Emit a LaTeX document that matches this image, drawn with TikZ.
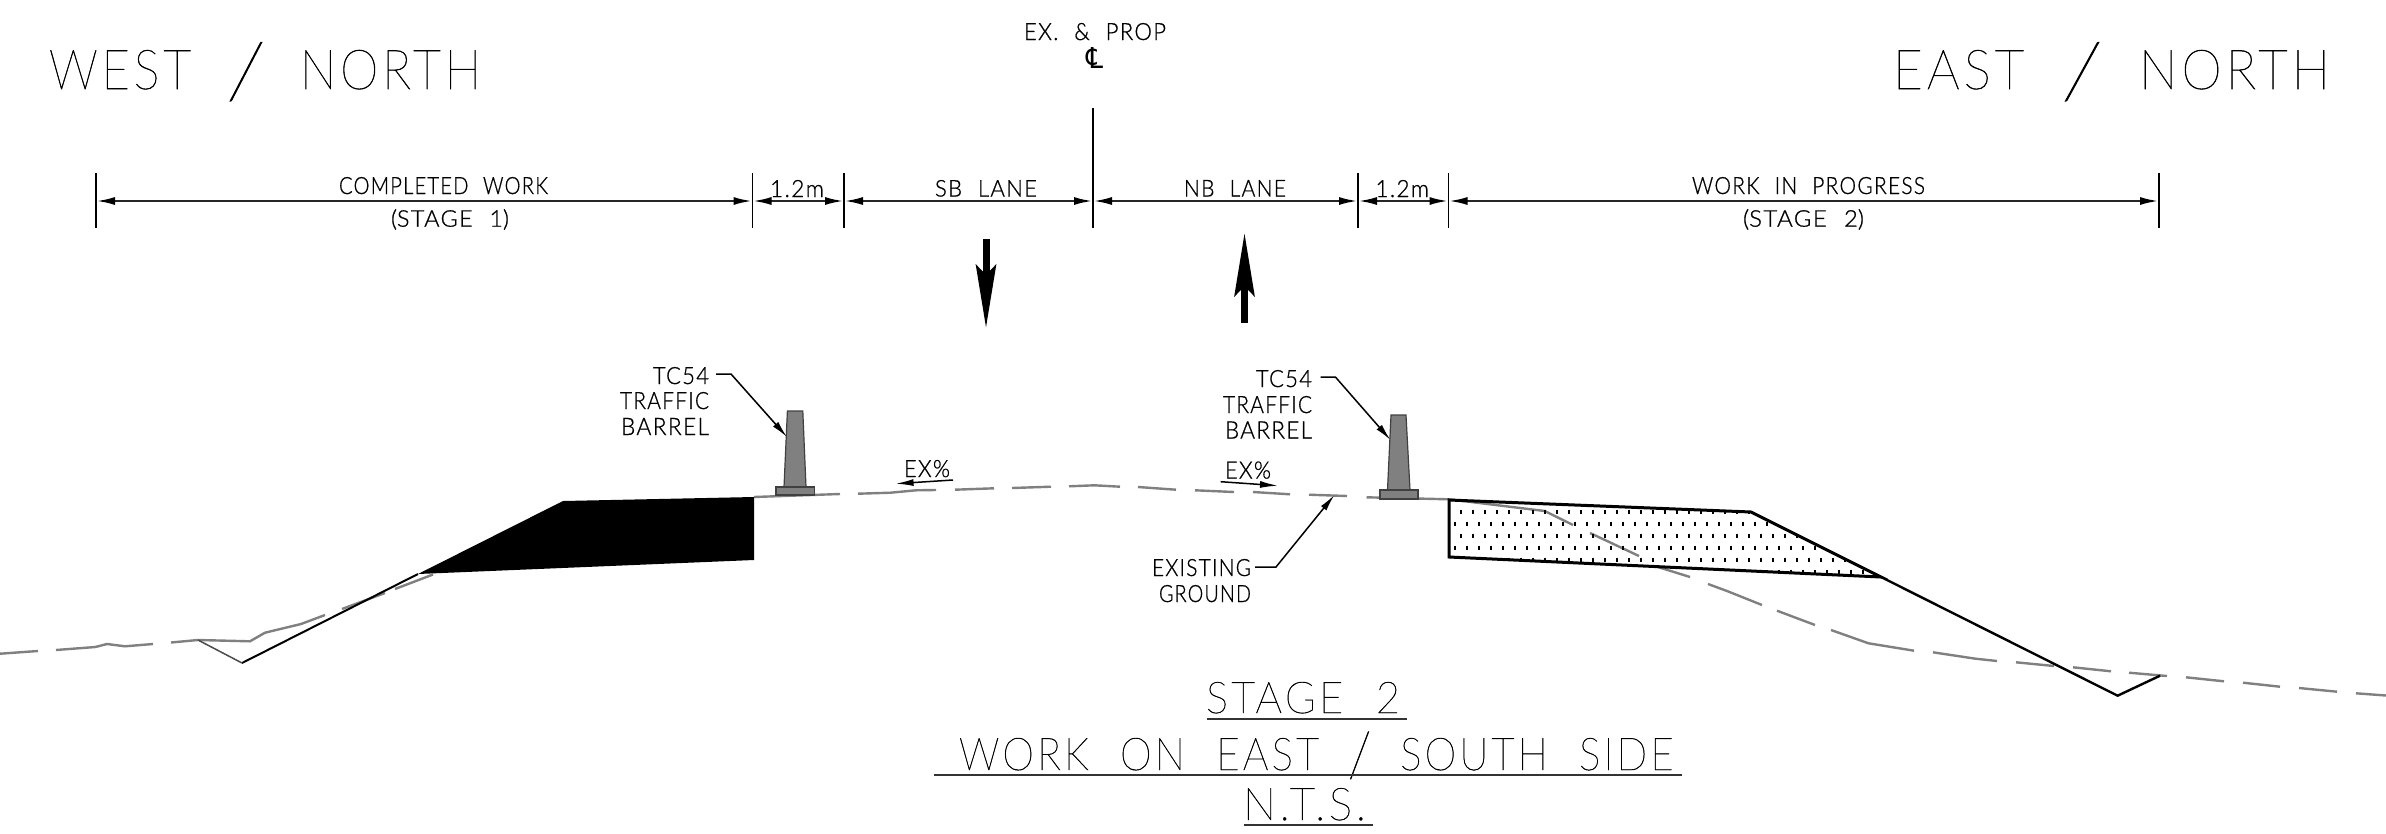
\documentclass[tikz,border=0pt]{standalone}
\usepackage{fontspec}
\usepackage{graphicx}
\usetikzlibrary{arrows.meta}
\newfontfamily\cadfont{Lato}[UprightFont=* Light,LetterSpace=6,FakeBold=0.8]
\newfontfamily\cadthin{Lato}[UprightFont=* Thin,LetterSpace=8,FakeBold=1]
\newfontfamily\cadsym{DejaVu Sans}
\definecolor{groundgrey}{HTML}{808080}
\tikzset{
  cadtext/.style={inner sep=0pt,outer sep=0pt,anchor=base west,font=\cadfont},
  cadtitle/.style={inner sep=0pt,outer sep=0pt,anchor=base west,font=\cadthin},
  tick/.style={line width=1.6pt,black},
  dimline/.style={line width=2.4pt,black!85,{Latex[length=19pt,width=8pt,black]}-{Latex[length=19pt,width=8pt,black]}},
  groundline/.style={line width=2.4pt,groundgrey,line join=round},
  leader/.style={line width=1.5pt,black,-{Latex[length=17pt,width=7pt]}},
  slopearrow/.style={line width=1.5pt,black,-{Latex[length=18pt,width=7pt]}},
  flowarrow/.style={line width=7pt,black,-{Stealth[length=63pt,width=20pt,inset=10pt]}},
  barrel/.style={draw=black!75,line width=1.2pt,fill=groundgrey},
  newwork/.style={draw=black,line width=3pt,line join=miter},
  titleline/.style={line width=2pt,black!80},
}
\newcommand{\cad}[6]{\node[cadtext] (#1) at (#2,#3) {\resizebox{#4pt}{#5pt}{#6}};}
\newcommand{\cadt}[6]{\node[cadtitle] (#1) at (#2,#3) {\resizebox{#4pt}{#5pt}{#6}};}
\newcommand{\wsp}{\hspace{0.72em}}
% slash: width, total height, drop below the baseline
\newcommand{\bigslash}[3]{\smash{\raisebox{-#3}{\resizebox*{#1}{#2}{\raisebox{\depth}{/}}}}}
\begin{document}
\begin{tikzpicture}[x=1pt,y=-1pt]
\useasboundingbox (0,0) rectangle (2386,833);

% titles
\cadt{tw}{49}{89}{432}{39}{WEST\hspace{0.72em}\bigslash{0.82em}{1.07em}{0.22em}\hspace{0.7em}NORTH}
\cadt{te}{1893}{89}{437}{39}{EAST\hspace{0.72em}\bigslash{0.82em}{1.07em}{0.22em}\hspace{0.7em}NORTH}
\cad{cl1}{1024}{40}{142}{17}{EX.\wsp\&\wsp PROP}
\node[inner sep=0pt,anchor=base,font=\cadsym] (cl2) at (1095,68) {\resizebox{17pt}{21pt}{℄}};

% dimension chain
\foreach \n/\x in {d0/96,d1/752.5,d2/844,d3/1093,d4/1358,d5/1448.5,d6/2159}{
  \coordinate (\n t) at (\x,173);
  \coordinate (\n b) at (\x,228);
  \coordinate (\n) at (\x,201);
  \draw[tick] (\n t) -- (\n b);
}
\coordinate (cltop) at (1093,108);
\draw[tick] (cltop) -- (d3t);
\draw[dimline] (d0) -- (d1);
\draw[dimline] (d1) -- (d2);
\draw[dimline] (d2) -- (d3);
\draw[dimline] (d3) -- (d4);
\draw[dimline] (d4) -- (d5);
\draw[dimline] (d5) -- (d6);

\cad{a1}{339}{194}{209}{17}{COMPLETED\wsp WORK}
\cad{a2}{391}{226.7}{118}{16.5}{\smash{(}STAGE\wsp 1\smash{)}}
\cad{a3}{770}{197}{54}{17}{1.2m}
\cad{a4}{935}{196.5}{102}{16.5}{SB\wsp LANE}
\cad{a5}{1184}{196.5}{102}{16.5}{NB\wsp LANE}
\cad{a6}{1375.5}{197}{53.5}{17}{1.2m}
\cad{a7}{1692}{194}{233}{17}{WORK\wsp IN\wsp PROGRESS}
\cad{a8}{1743}{226.7}{121}{16.5}{\smash{(}STAGE\wsp 2\smash{)}}

% direction arrows
\coordinate (sba) at (986,239);
\coordinate (sbb) at (986,328);
\coordinate (nba) at (1244.5,323);
\coordinate (nbb) at (1244.5,233);
\draw[flowarrow] (sba) -- (sbb);
\draw[flowarrow] (nba) -- (nbb);

% existing ground, dash by dash
\draw[groundline]
  (0,653.7) -- (38,651)
  (56,650) -- (95.4,647) -- (107,644) -- (125,646.3) -- (153,644)
  (171,642.5) -- (198,640) -- (250,641.3) -- (265,632.7) -- (301,624) -- (325,615)
  (342,609) -- (385,593)
  (395,589) -- (433,574.5)
  (754,497) -- (840,494)
  (858,493.7) -- (890.5,492.7) -- (916,490.3) -- (936,490)
  (955,489.7) -- (994,488.3)
  (1012,488) -- (1051,486.7)
  (1069,486.3) -- (1094.6,485.3) -- (1120,486.7)
  (1138,487) -- (1176,489.7)
  (1195,490.3) -- (1234,492)
  (1253,492) -- (1290,494.3)
  (1309,494.7) -- (1347,496)
  (1366.5,497.3) -- (1449,499.3) -- (1544.7,511) -- (1573,525)
  (1590,533) -- (1639,556)
  (1657,566.7) -- (1690,577)
  (1708,584) -- (1727,591) -- (1762,605)
  (1777,610.7) -- (1815,625)
  (1831,630) -- (1868.5,643.3) -- (1914,650.7)
  (1933,652.3) -- (1975.5,658.7) -- (1997,661)
  (2016,662.3) -- (2054,666)
  (2073,667.3) -- (2111,671.3)
  (2129,672.7) -- (2167,676)
  (2186,677.3) -- (2224,681.3)
  (2243,682.7) -- (2280,686.7)
  (2299,688) -- (2337,691.7)
  (2356,693.3) -- (2386,695.5);

% completed work
\coordinate (bl1) at (418,574);
\coordinate (bl2) at (563,501);
\coordinate (bl3) at (754,497);
\coordinate (bl4) at (754,560);
\coordinate (dl1) at (242,663);
\coordinate (dl0) at (198,640);
\fill[black] (bl1) -- (bl2) -- (bl3) -- (bl4) -- cycle;
\draw[line width=2pt,black] (dl1) -- (bl1);
\draw[line width=1.5pt,black!70] (dl0) -- (dl1);

% work in progress
\coordinate (wp1) at (1449,500);
\coordinate (wp2) at (1751,512);
\coordinate (wp3) at (1881,577);
\coordinate (wp4) at (1449,557);
\coordinate (wd1) at (2117.6,695.7);
\coordinate (wd2) at (2160,675.7);
\begin{scope}
\clip (wp1) -- (wp2) -- (wp3) -- (wp4) -- cycle;
\foreach \r in {0,...,5}{
  \pgfmathsetmacro{\yy}{511.7+12*\r}
  \pgfmathsetmacro{\xs}{1461-6*mod(\r,2)}
  \foreach \c in {0,...,36}{
    \draw[line width=1.5pt,black] (\xs+12*\c,\yy-2) -- (\xs+12*\c,\yy+2);
  }
}
\end{scope}
\draw[newwork] (wp1) -- (wp2) -- (wp3) -- (wp4) -- cycle;
\draw[line width=2.4pt,black,line join=miter] (wp3) -- (wd1) -- (wd2);

% barrels
\draw[barrel] (787.4,411) -- (802.8,411) -- (806,487) -- (784,487) -- cycle;
\draw[barrel] (776,487) rectangle (814.5,495);
\draw[barrel] (1391,415) -- (1406,415) -- (1410,490) -- (1387.5,490) -- cycle;
\draw[barrel] (1380,490) rectangle (1418,499);

% barrel labels
\cad{b1}{653}{384}{56}{17}{TC54}
\cad{b2}{620}{409}{89}{17}{TRAFFIC}
\cad{b3}{621}{435}{88}{17}{BARREL}
\coordinate (l1a) at (716,374);
\coordinate (l1b) at (731,374);
\coordinate (l1c) at (787,437);
\draw[leader] (l1a) -- (l1b) -- (l1c);
\cad{c1}{1256}{387}{56}{17}{TC54}
\cad{c2}{1223}{413}{89}{17}{TRAFFIC}
\cad{c3}{1225}{438.5}{87}{17}{BARREL}
\coordinate (l2a) at (1320.6,377);
\coordinate (l2b) at (1335.4,377);
\coordinate (l2c) at (1390.5,440);
\draw[leader] (l2a) -- (l2b) -- (l2c);

% slopes
\cad{s1}{904}{477}{46}{17}{EX\%}
\coordinate (s1a) at (953,480);
\coordinate (s1b) at (895.6,483.7);
\draw[slopearrow] (s1a) -- (s1b);
\cad{s2}{1225}{478.5}{46}{17}{EX\%}
\coordinate (s2a) at (1220.6,481.7);
\coordinate (s2b) at (1278,485.7);
\draw[slopearrow] (s2a) -- (s2b);

% existing ground label
\cad{g1}{1152}{576}{99}{17}{EXISTING}
\cad{g2}{1159}{602}{92}{17}{GROUND}
\coordinate (l3a) at (1255,567);
\coordinate (l3b) at (1276,567);
\coordinate (l3c) at (1334.4,495);
\draw[leader] (l3a) -- (l3b) -- (l3c);

% bottom title
\cadt{f1}{1206}{713}{194}{31}{STAGE\hspace{0.78em}2}
\coordinate (u1a) at (1207,718.7);
\coordinate (u1b) at (1407.4,718.7);
\draw[titleline] (u1a) -- (u1b);
\cadt{f2}{959}{770}{714.5}{32}{WORK\hspace{0.78em}ON\hspace{0.78em}EAST\hspace{0.72em}\bigslash{0.58em}{1.05em}{0.2em}\hspace{0.72em}SOUTH\hspace{0.78em}SIDE}
\coordinate (u2a) at (934,775);
\coordinate (u2b) at (1681.7,775);
\draw[titleline] (u2a) -- (u2b);
\cadt{f3}{1243}{820}{123}{32}{N.T.S.}
\coordinate (u3a) at (1244,825);
\coordinate (u3b) at (1373,825);
\draw[titleline] (u3a) -- (u3b);
\end{tikzpicture}
\end{document}
